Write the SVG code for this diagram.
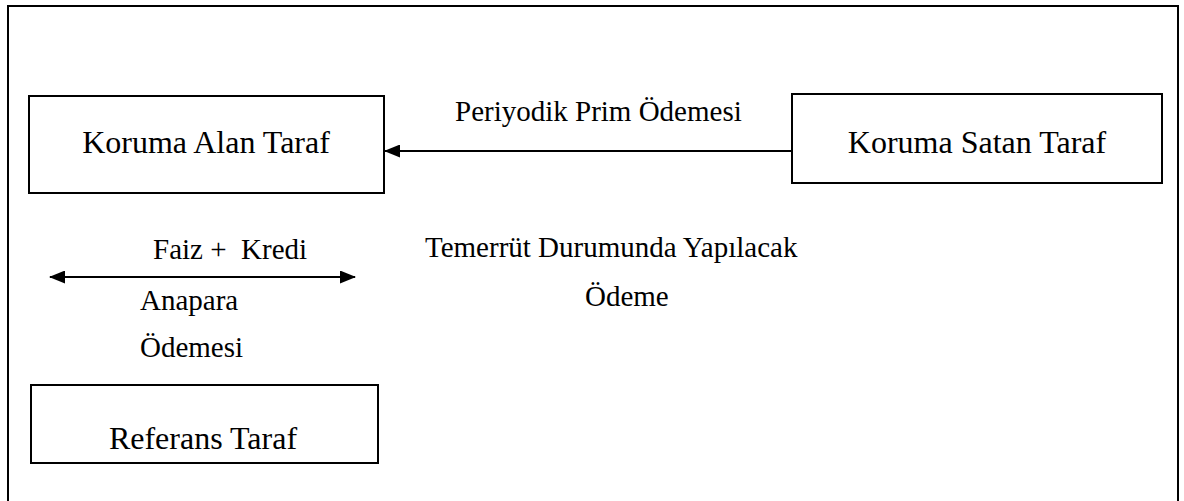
<svg xmlns="http://www.w3.org/2000/svg" width="1184" height="501" viewBox="0 0 1184 501">
<style>
.box{fill:#fff;stroke:#000;stroke-width:2}
.t{font-size:29px;fill:#000}
.bt{font-size:32px;fill:#000}
.ln{stroke:#000;stroke-width:2;fill:none}
</style>
<defs>
<marker id="ah" viewBox="0 0 16 13" refX="15" refY="6.5" markerWidth="16" markerHeight="13" markerUnits="userSpaceOnUse" orient="auto-start-reverse">
<path d="M0,0 L16,6.5 L0,13 Z" fill="#000"/>
</marker>
</defs>
<rect x="0" y="0" width="1184" height="501" fill="#fff"/>
<rect id="frame" x="8" y="6" width="1170" height="520" fill="none" stroke="#000" stroke-width="2"/>
<g font-family="Liberation Serif, Times New Roman, DejaVu Serif, serif">
<g id="node-koruma-alan">
<rect class="box" x="29" y="96" width="355" height="97"/>
<text class="bt" x="206" y="153" text-anchor="middle">Koruma Alan Taraf</text>
</g>
<g id="node-koruma-satan">
<rect class="box" x="792" y="94" width="370" height="89"/>
<text class="bt" x="977" y="153" text-anchor="middle">Koruma Satan Taraf</text>
</g>
<g id="node-referans">
<rect class="box" x="31" y="385" width="347" height="78"/>
<text class="bt" x="203" y="449" text-anchor="middle">Referans Taraf</text>
</g>
<g id="connectors">
<line class="ln" x1="792" y1="151" x2="385" y2="151" marker-end="url(#ah)"/>
<line class="ln" x1="50" y1="277" x2="355" y2="277" marker-start="url(#ah)" marker-end="url(#ah)"/>
</g>
<g id="labels">
<text class="t" x="455" y="121">Periyodik Prim Ödemesi</text>
<text class="t" x="153" y="259" xml:space="preserve">Faiz +  Kredi</text>
<text class="t" x="140" y="310">Anapara</text>
<text class="t" x="140" y="357">Ödemesi</text>
<text class="t" x="425" y="257">Temerrüt Durumunda Yapılacak</text>
<text class="t" x="585" y="306">Ödeme</text>
</g>
</g>
</svg>
